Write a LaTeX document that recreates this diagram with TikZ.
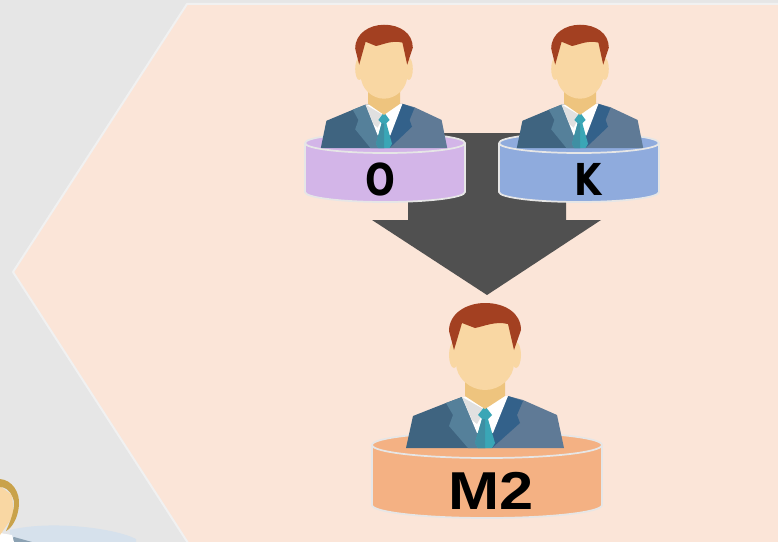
\documentclass[tikz,border=0pt]{standalone}
\usepackage{fontspec}
\setmainfont{Liberation Sans}
\newfontfamily\heavyfont{DejaVu Sans}
\definecolor{bggray}{HTML}{E6E6E6}
\definecolor{peach}{HTML}{FBE5D8}
\definecolor{rimgray}{HTML}{E6E6E6}
\definecolor{edgegray}{HTML}{F1F1F1}
\definecolor{arrowgray}{HTML}{505050}
\definecolor{skin}{HTML}{F9D7A3}
\definecolor{neck}{HTML}{EEC47E}
\definecolor{hair}{HTML}{A34021}
\definecolor{suitdark}{HTML}{3F6480}
\definecolor{suitlight}{HTML}{5F7A96}
\definecolor{lapellight}{HTML}{55809A}
\definecolor{lapeldark}{HTML}{33618A}
\definecolor{tie}{HTML}{3AA6B6}
\definecolor{tieshade}{HTML}{3F8FA3}
\definecolor{diskO}{HTML}{D3B5E8}
\definecolor{diskK}{HTML}{8FABDD}
\definecolor{diskM}{HTML}{F4B183}
\definecolor{goldhair}{HTML}{C9A24A}
\definecolor{paleblue}{HTML}{D6E1EC}
\tikzset{
  rim/.style={draw=rimgray, line width=1.3pt},
  disklabel/.style={inner sep=0pt, text=black},
  person/.pic={
    % face and neck
    \fill[skin] (-31,-93) ellipse (5 and 13);
    \fill[skin] (31,-93) ellipse (5 and 13);
    \fill[suitdark] (-79,0) -- (-72,-32) -- (-39,-45) -- (-23,-51) -- (0,-51) -- (0,0) -- cycle;
    \fill[suitlight] (79,0) -- (72,-33) -- (38,-48) -- (23,-52) -- (0,-52) -- (0,0) -- cycle;
    \fill[lapellight] (-39,-45) -- (-23,-51) -- (-7,-13) -- (-7,0) -- (-17,0) -- (-36,-22) -- (-32,-33) -- cycle;
    \fill[lapeldark] (23,-52) -- (38,-47) -- (32,-33) -- (35,-25) -- (7,0) -- (4,-13) -- cycle;
    \fill[white] (-23,-51) -- (23,-52) -- (8,-15) -- (-8,-15) -- cycle;
    \fill[black!12!white] (-23,-51) -- (0,-38) -- (-8,-24) -- (-13,-28) -- cycle;
    \fill[tie] (0,-42) -- (7,-33) -- (3,-29) -- (10,-5) -- (7,0) -- (-7,0) -- (-10,-5) -- (-3,-29) -- (-7,-33) -- cycle;
    \fill[tieshade] (0,-29) -- (-3,-29) -- (-10,-5) -- (-7,0) -- (0,0) -- cycle;
    \fill[neck] (-20,-72) -- (20,-72) -- (20,-52) -- (0,-39) -- (-20,-52) -- cycle;
    \fill[skin] (-29,-125) -- (29,-125) -- (29,-85) .. controls (29,-70) and (15,-58) .. (0,-58)
      .. controls (-15,-58) and (-29,-70) .. (-29,-85) -- cycle;
    % hair
    \fill[hair] (-31,-98) -- (-36,-117) .. controls (-36,-135) and (-18,-145) .. (0,-145)
      .. controls (20,-145) and (36,-135) .. (36,-118) -- (29,-98) -- (23,-124)
      .. controls (10,-127) and (0,-122) .. (-10,-120) -- (-23,-125) -- cycle;
  }
}
\newcommand{\drawdisk}[6]{% center x, top y, half width, half height, wall height, colour
  \fill[#6] (#1-#3,#2) -- (#1-#3,#2+#5) arc[start angle=180, end angle=0, x radius=#3, y radius=#4]
    -- (#1+#3,#2) arc[start angle=0, end angle=-180, x radius=#3, y radius=#4] -- cycle;
  \draw[rim] (#1-#3,#2) -- (#1-#3,#2+#5) arc[start angle=180, end angle=0, x radius=#3, y radius=#4] -- (#1+#3,#2);
  \draw[rim] (#1-#3,#2) arc[start angle=180, end angle=0, x radius=#3, y radius=#4]
    arc[start angle=0, end angle=-180, x radius=#3, y radius=#4];
}
\begin{document}
\begin{tikzpicture}[x=0.75pt,y=-0.75pt]
  \useasboundingbox (0,0) rectangle (778,542);
  \clip (0,0) rectangle (778,542);
  \fill[bggray] (0,0) rectangle (778,542);
  % hexagon
  \draw[fill=peach, draw=edgegray, line width=1.5pt] (187,4) -- (790,4) -- (790,560) -- (199,560) -- (13,272) -- cycle;
  % person at the lower left
  \fill[paleblue] (10,530) .. controls (50,520) and (115,528) .. (136,539) -- (136,542) -- (10,542) -- cycle;
  \fill[suitdark!60!white] (14,537) -- (32,542) -- (8,542) -- cycle;
  \fill[white] (0,533) -- (12,535) -- (14,542) -- (0,542) -- cycle;
  \fill[skin] (0,486) -- (12,495) -- (14,515) -- (0,535) -- cycle;
  \fill[goldhair] (0,479) .. controls (12,480) and (20,492) .. (19,505)
    .. controls (18,518) and (12,528) .. (6,531) .. controls (12,518) and (16,505) .. (13,498)
    .. controls (10,490) and (5,487) .. (0,487) -- cycle;
  % big arrow
  \fill[arrowgray] (408,133) -- (566,133) -- (566,220) -- (601,220) -- (487,295) -- (372,220) -- (408,220) -- cycle;
  % disks and persons
  \drawdisk{385}{143}{80}{10}{49}{diskO}
  \pic[xscale=0.8,yscale=0.85] at (384,148) {person};
  \node[disklabel, font=\heavyfont\bfseries\fontsize{33}{33}\selectfont, xscale=0.8] (labelO) at (380,179) {O};

  \drawdisk{579}{143}{80}{10}{49}{diskK}
  \pic[xscale=0.8,yscale=0.85] at (580,148) {person};
  \node[disklabel, font=\heavyfont\bfseries\fontsize{33}{33}\selectfont, xscale=0.8] (labelK) at (588,179) {K};

  \drawdisk{487}{445}{115}{13}{60}{diskM}
  \pic at (485,448) {person};
  \node[disklabel, font=\bfseries\fontsize{40}{40}\selectfont, xscale=1.15] (labelM) at (491,491) {M2};
\end{tikzpicture}
\end{document}
